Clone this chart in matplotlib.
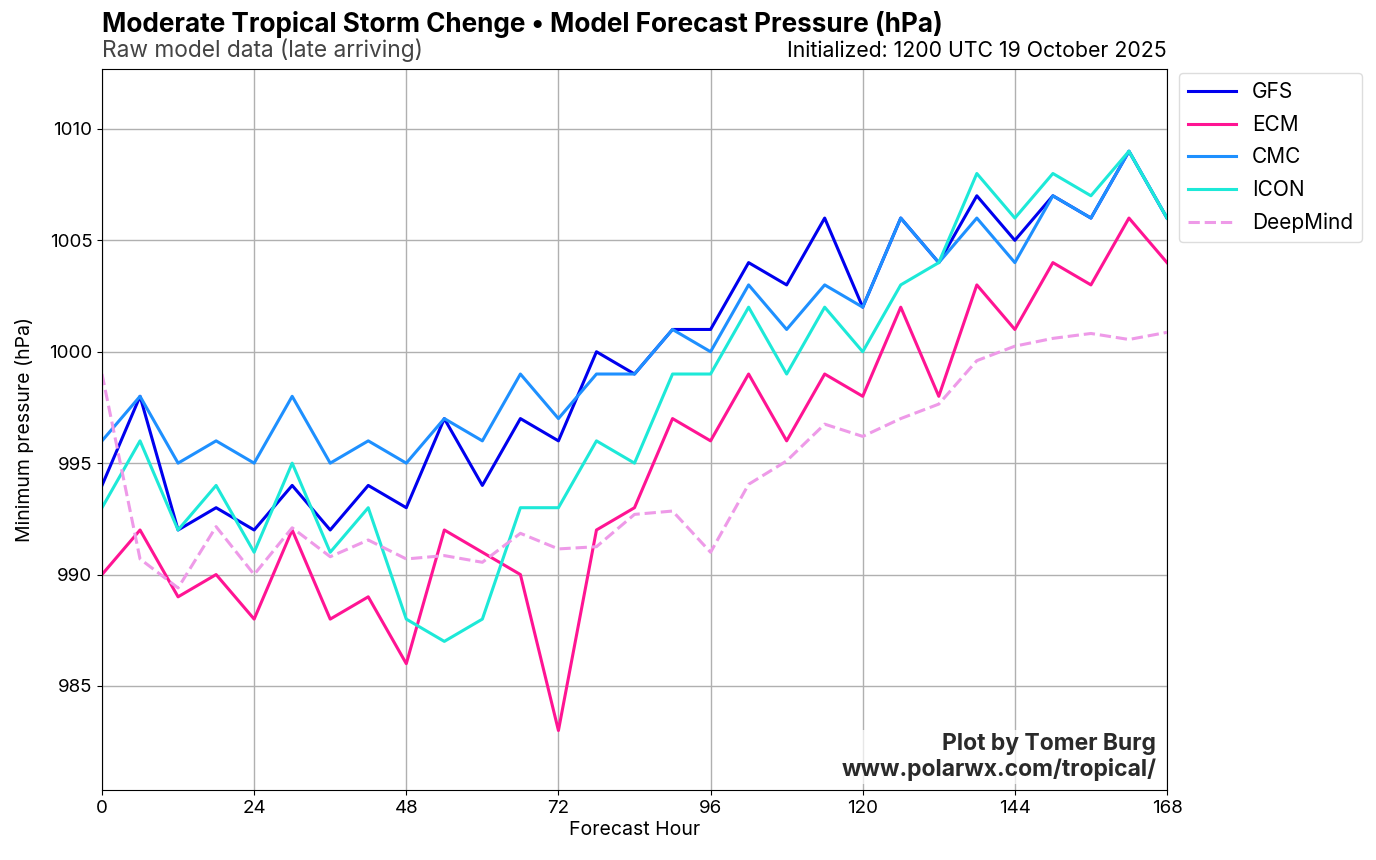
import matplotlib
matplotlib.use("Agg")
import matplotlib.pyplot as plt
import numpy as np

plt.rcParams["font.family"] = ["Inter", "DejaVu Sans"]

hours = list(range(0, 169, 6))

gfs = [994, 998, 992, 993, 992, 994, 992, 994, 993, 997, 994, 997, 996, 1000, 999,
       1001, 1001, 1004, 1003, 1006, 1002, 1006, 1004, 1007, 1005, 1007, 1006, 1009, 1006]
ecm = [990, 992, 989, 990, 988, 992, 988, 989, 986, 992, 991, 990, 983, 992, 993,
       997, 996, 999, 996, 999, 998, 1002, 998, 1003, 1001, 1004, 1003, 1006, 1004]
cmc = [996, 998, 995, 996, 995, 998, 995, 996, 995, 997, 996, 999, 997, 999, 999,
       1001, 1000, 1003, 1001, 1003, 1002, 1006, 1004, 1006, 1004, 1007, 1006, 1009, 1006]
icon = [993, 996, 992, 994, 991, 995, 991, 993, 988, 987, 988, 993, 993, 996, 995,
        999, 999, 1002, 999, 1002, 1000, 1003, 1004, 1008, 1006, 1008, 1007, 1009, 1006]
deepmind = [999.0, 990.7, 989.4, 992.15, 990.0, 992.1, 990.8, 991.55, 990.7, 990.85,
            990.55, 991.85, 991.15, 991.25, 992.7, 992.85, 991.0, 994.05, 995.1, 996.75,
            996.2, 997.0, 997.65, 999.6, 1000.25, 1000.6, 1000.82, 1000.55, 1000.87]

SERIES = [
    ("GFS", gfs, "#0000ee", "-"),
    ("ECM", ecm, "#ff1493", "-"),
    ("CMC", cmc, "#1e90ff", "-"),
    ("ICON", icon, "#1de9d8", "-"),
    ("DeepMind", deepmind, "#ee9ae8", "--"),
]

fig = plt.figure(figsize=(13.76, 8.6), dpi=100)
ax = fig.add_axes([102 / 1376, 1 - 790 / 860, (1167 - 102) / 1376, (790 - 69) / 860])

for name, vals, color, ls in SERIES:
    ax.plot(hours, vals, color=color, linestyle=ls, linewidth=2.2, label=name)

ax.set_xlim(0, 168)
ax.set_ylim(980.33, 1012.69)
ax.set_xticks(np.arange(0, 169, 24))
ax.set_yticks([985, 990, 995, 1000, 1005, 1010])
ax.tick_params(labelsize=13.5)
ax.grid(True, color="#b0b0b0", linewidth=1)
ax.set_axisbelow(True)
ax.set_xlabel("Forecast Hour", fontsize=14, labelpad=3)
ax.set_ylabel("Minimum pressure (hPa)", fontsize=14, labelpad=11)

fig.text(102 / 1376, 1 - 25 / 860, "Moderate Tropical Storm Chenge \u2022 Model Forecast Pressure (hPa)",
         fontsize=18.8, fontweight="bold", va="center", ha="left")
fig.text(102 / 1376, 1 - 50 / 860, "Raw model data (late arriving)",
         fontsize=16.4, color="#444444", va="center", ha="left")
fig.text(1167 / 1376, 1 - 51 / 860, "Initialized: 1200 UTC 19 October 2025",
         fontsize=15.3, va="center", ha="right")

ax.text(0.99, 0.012, "Plot by Tomer Burg\nwww.polarwx.com/tropical/", transform=ax.transAxes,
        ha="right", va="bottom", fontsize=16.5, fontweight="bold", color="#2a2a2a",
        linespacing=1.2, bbox=dict(facecolor="white", edgecolor="none", alpha=0.7, pad=2))

ax.legend(loc="upper left", bbox_to_anchor=(1.0113, 0.9945), borderaxespad=0, fontsize=15,
          handlelength=2.3, handletextpad=0.75, borderpad=0.45, labelspacing=0.6,
          framealpha=1, edgecolor="#dddddd")

fig.savefig("out.png", dpi=100)
